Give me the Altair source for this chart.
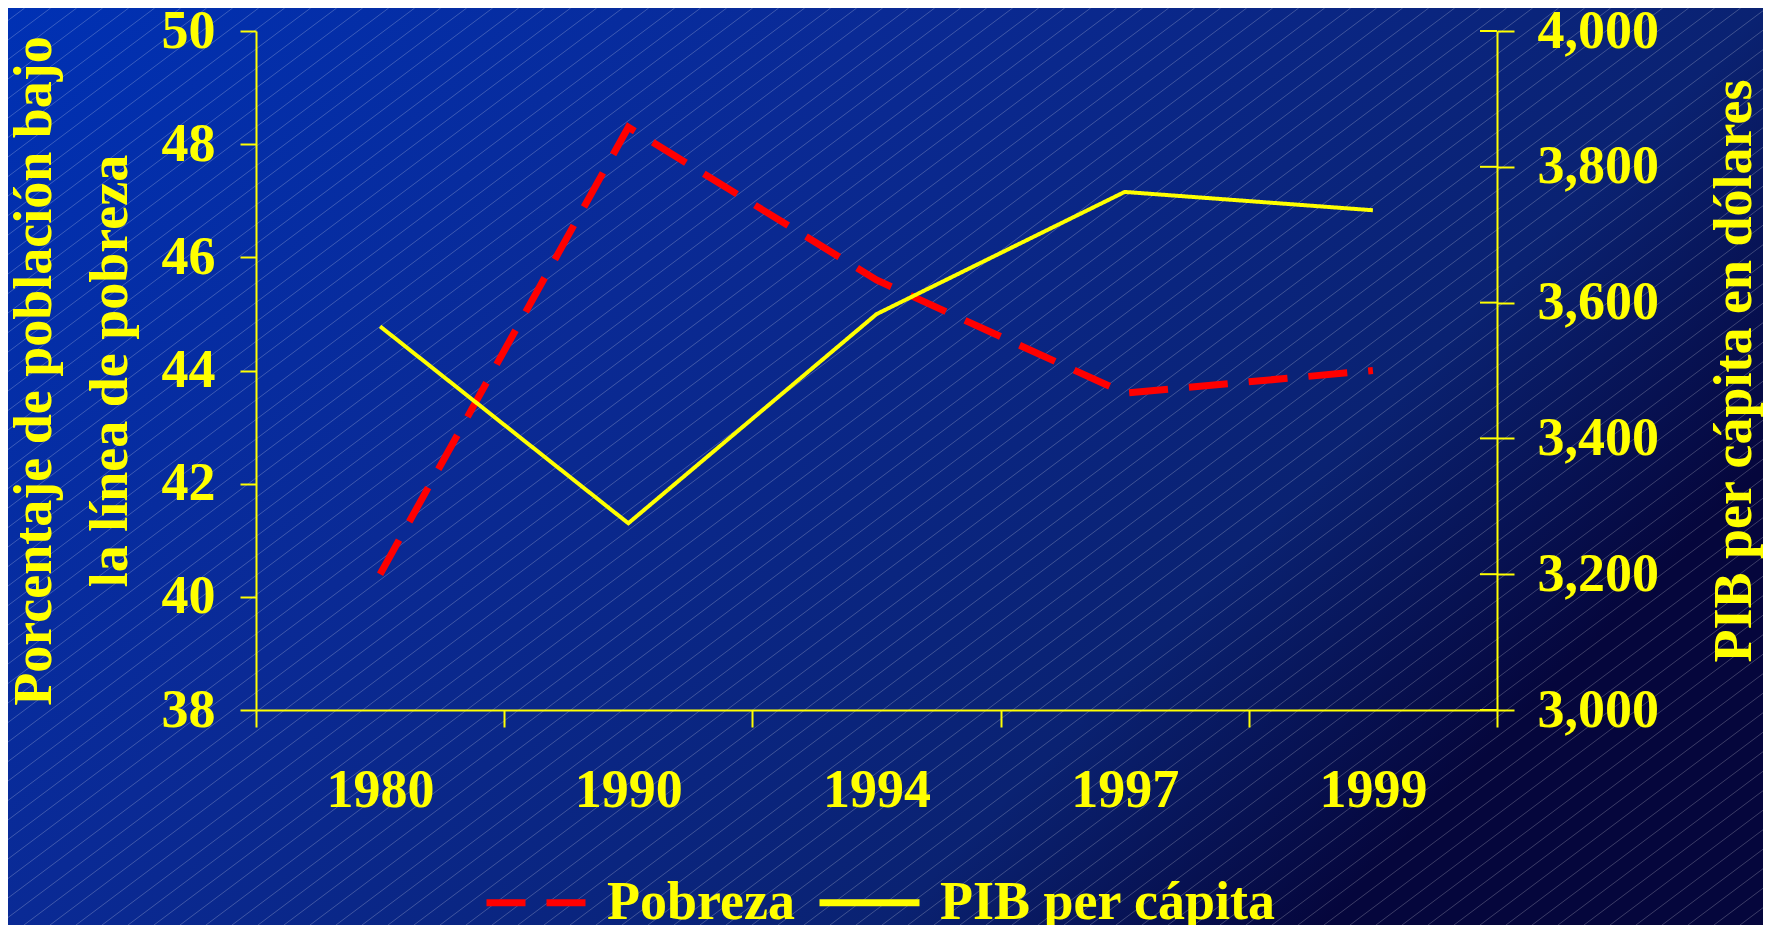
import altair as alt
import pandas as pd

# ---- data ----
years = ["1980", "1990", "1994", "1997", "1999"]
pobreza = [40.4, 48.3, 45.6, 43.6, 44.0]
pib = [3565, 3275, 3583, 3763, 3736]
left_ticks = [38, 40, 42, 44, 46, 48, 50]
right_ticks = [3000, 3200, 3400, 3600, 3800, 4000]
series = ["Pobreza", "PIB per cápita"]
left_title = ["Porcentaje de población bajo", "la línea de pobreza"]
right_title = "PIB per cápita en dólares"

# ---- layout / style ----
W, H = 1241, 679
PAD = {"left": 248, "top": 23, "right": 266, "bottom": 215}
YELLOW = "#ffff00"
RED = "#ff0000"
FONT = "Liberation Serif"
FS = 54

df = pd.DataFrame({"year": years, "pobreza": pobreza, "pib": pib})
ticks_df = pd.DataFrame({"t": right_ticks})

grad = {
    "gradient": "linear", "x1": 0, "y1": 0, "x2": 1, "y2": 0.5,
    "stops": [
        {"offset": 0.0, "color": "#0031b4"},
        {"offset": 0.4, "color": "#0a2a95"},
        {"offset": 0.8, "color": "#0a2272"},
        {"offset": 1.0, "color": "#05063c"},
    ],
}

bg = alt.Chart(pd.DataFrame({"k": [0]})).mark_rect(fill=grad, strokeWidth=0).encode(
    x=alt.value(-PAD["left"]), x2=alt.value(W + PAD["right"]),
    y=alt.value(-PAD["top"]), y2=alt.value(H + PAD["bottom"]),
)

full_h = H + PAD["top"] + PAD["bottom"]
dx = full_h / 0.75
stripes = alt.Chart(alt.sequence(0, 130, as_="i")).transform_calculate(
    sx=f"datum.i * 26 - 1480",
    sx2=f"datum.i * 26 - 1480 + {dx}",
    sy=f"{H + PAD['bottom']}",
    sy2=f"{-PAD['top']}",
).mark_rule(color="#ffffff", opacity=0.22, strokeWidth=1).encode(
    x=alt.X("sx:Q", scale=None, axis=None), x2="sx2:Q",
    y=alt.Y("sy:Q", scale=None, axis=None), y2="sy2:Q",
)

legend = alt.Legend(
    title=None, orient="none", legendX=227, legendY=818, direction="horizontal",
    symbolType="stroke", symbolSize=10000, symbolStrokeWidth=7,
    labelFont=FONT, labelFontSize=FS, labelFontWeight="bold", labelColor=YELLOW,
    labelOffset=17, columnPadding=10, labelLimit=1000, padding=0,
)
color_scale = alt.Scale(domain=series, range=[RED, YELLOW])
dash_scale = alt.Scale(domain=series, range=[[39, 21], [1, 0]])

xenc = alt.X(
    "year:O", bandPosition=0.5, sort=years,
    scale=alt.Scale(type="band", paddingInner=0, paddingOuter=0),
    axis=alt.Axis(title="", tickBand="extent", tickSize=17, labelPadding=36,
                  labelAngle=0, labelBaseline="top", zindex=1),
)
cenc = alt.Color("serie:N", scale=color_scale, legend=legend)
denc = alt.StrokeDash("serie:N", scale=dash_scale, legend=legend)

pob = alt.Chart(df).transform_calculate(serie=f"'{series[0]}'").mark_line(
    strokeWidth=7, strokeCap="butt"
).encode(
    x=xenc,
    y=alt.Y("pobreza:Q", scale=alt.Scale(domain=[38, 50], zero=False, nice=False),
            axis=alt.Axis(orient="left", values=left_ticks, format="d", tickSize=16,
                          labelPadding=25, title=left_title, titleAngle=270,
                          titleX=-222, titleY=H / 2, titleAlign="center",
                          titleBaseline="middle", titleLineHeight=76, zindex=1)),
    color=cenc, strokeDash=denc,
)

pibl = alt.Chart(df).transform_calculate(serie=f"'{series[1]}'").mark_line(
    strokeWidth=4
).encode(
    x=xenc,
    y=alt.Y("pib:Q", scale=alt.Scale(domain=[3000, 4000], zero=False, nice=False),
            axis=alt.Axis(orient="right", values=right_ticks, format=",d", tickSize=17,
                          labelPadding=23, title=right_title, titleAngle=270,
                          titleX=237, titleY=H / 2, titleAlign="center",
                          titleBaseline="middle", zindex=1)),
    color=cenc, strokeDash=denc,
)

inner_ticks = alt.Chart(ticks_df).mark_rule(color=YELLOW, strokeWidth=2).encode(
    y=alt.Y("t:Q", scale=alt.Scale(domain=[3000, 4000], zero=False, nice=False), axis=None),
    x=alt.value(W - 17), x2=alt.value(W),
)

chart = alt.layer(bg, stripes, inner_ticks, pob, pibl).resolve_scale(
    y="independent"
).properties(
    width=W, height=H,
    autosize=alt.AutoSizeParams(type="none"),
    padding=PAD,
    background="#0a2080",
).configure_axis(
    labelFont=FONT, labelFontSize=FS, labelFontWeight="bold", labelColor=YELLOW,
    titleFont=FONT, titleFontSize=FS, titleFontWeight="bold", titleColor=YELLOW,
    domainColor=YELLOW, domainWidth=2, tickColor=YELLOW, tickWidth=2, grid=False,
    labelLimit=1000,
).configure_view(strokeWidth=0)

chart.save("out.html", embed_options={"renderer": "svg", "actions": False})
